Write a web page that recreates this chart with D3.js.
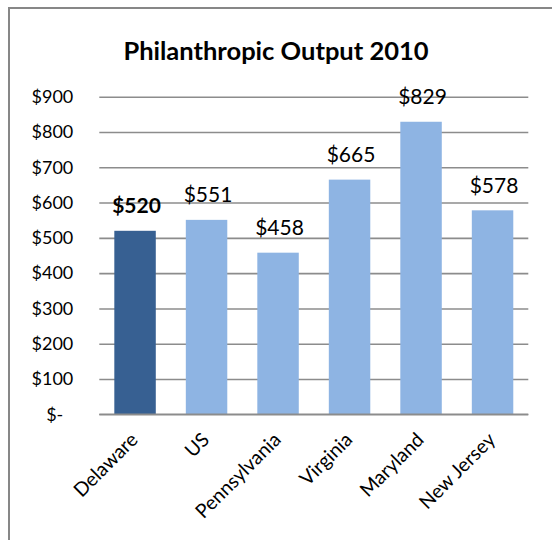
<!DOCTYPE html>
<html>
<head>
<meta charset="utf-8">
<script src="https://cdn.jsdelivr.net/npm/d3@7"></script>
<style>
  html, body { margin: 0; padding: 0; background: #fff; }
  svg { display: block; font-family: Lato, "Open Sans", sans-serif; }
</style>
</head>
<body>
<svg id="chart" width="552" height="540"></svg>
<script>
// Giving per capita, 2010
const states = ["Delaware", "US", "Pennsylvania", "Virginia", "Maryland", "New Jersey"];
const output = [520, 551, 458, 665, 829, 578];
const highlighted = ["Delaware"];
const yTicks = [0, 100, 200, 300, 400, 500, 600, 700, 800, 900];
const title = "Philanthropic Output 2010";

const svg = d3.select("#chart");

// frame of the chart area
svg.append("path")
  .attr("d", "M9,540V8H552")
  .attr("fill", "none")
  .attr("stroke", "#878787")
  .attr("stroke-width", 2);

svg.append("text")
  .attr("x", 276)
  .attr("y", 59.5)
  .attr("text-anchor", "middle")
  .attr("font-size", 25.5)
  .attr("font-weight", "bold")
  .attr("fill", "#000")
  .text(title);

const plot = { left: 99.3, right: 528.3, top: 96.7, bottom: 414.3 };

const x = d3.scaleBand()
  .domain(states)
  .range([plot.left, plot.right])
  .paddingInner(0.42)
  .paddingOuter(0.21);

const y = d3.scaleLinear()
  .domain([0, 900])
  .range([plot.bottom, plot.top]);

// gridlines and dollar tick labels
const yAxis = svg.append("g")
  .attr("transform", `translate(${plot.left},0)`)
  .call(d3.axisLeft(y)
    .tickValues(yTicks)
    .tickSize(-(plot.right - plot.left))
    .tickPadding(26)
    .tickFormat(d => d === 0 ? "$-" : "$" + d));
yAxis.select(".domain").remove();
yAxis.selectAll(".tick line")
  .attr("stroke", "#8c8c8c")
  .attr("stroke-width", 1.6);
yAxis.selectAll(".tick text")
  .attr("font-family", "Lato, 'Open Sans', sans-serif")
  .attr("font-size", 18)
  .attr("fill", "#000")
  .attr("dx", d => d === 0 ? -10 : 0);

// bars
svg.append("g").selectAll("rect")
  .data(states)
  .join("rect")
  .attr("x", d => x(d))
  .attr("y", (d, i) => y(output[i]))
  .attr("width", x.bandwidth())
  .attr("height", (d, i) => y(0) - y(output[i]))
  .attr("fill", d => highlighted.includes(d) ? "#376092" : "#8eb4e3");

// redraw the baseline over the bars
svg.append("line")
  .attr("x1", plot.left).attr("x2", plot.right)
  .attr("y1", y(0)).attr("y2", y(0))
  .attr("stroke", "#8c8c8c")
  .attr("stroke-width", 1.6);

// value labels
svg.append("g").selectAll("text")
  .data(states)
  .join("text")
  .attr("x", d => x(d) + x.bandwidth() / 2 + 1.5)
  .attr("y", (d, i) => y(output[i]) - 17.5)
  .attr("text-anchor", "middle")
  .attr("font-size", 21)
  .attr("font-weight", d => highlighted.includes(d) ? "bold" : "normal")
  .attr("fill", "#000")
  .text((d, i) => "$" + output[i]);

// rotated category labels
svg.append("g").selectAll("text")
  .data(states)
  .join("text")
  .attr("transform", d => `translate(${x(d) + x.bandwidth() / 2 + 4},441) rotate(-45)`)
  .attr("text-anchor", "end")
  .attr("font-size", 19.5)
  .attr("fill", "#000")
  .text(d => d);
</script>
</body>
</html>
